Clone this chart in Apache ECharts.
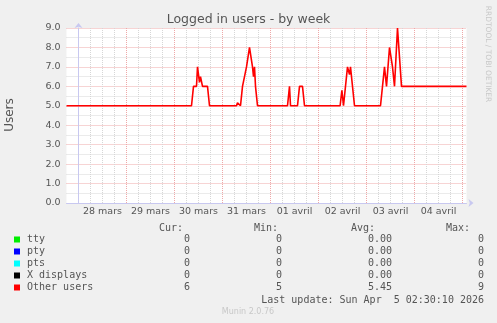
<!DOCTYPE html>
<html><head><meta charset="utf-8">
<script src="https://cdn.jsdelivr.net/npm/echarts@6/dist/echarts.min.js"></script>
<style>html,body{margin:0;padding:0;background:#f0f0f0}#c{width:497px;height:323px}</style>
</head><body><div id="c"></div>
<script>
// x values: hours since 28 mars 00:00
const dayLabels = ['28 mars','29 mars','30 mars','31 mars','01 avril','02 avril','03 avril','04 avril'];
const otherHours = [-6,56.5,57.5,59,59.5,60.5,61,62,64.5,65.5,
  79,79.5,80,80.5,81,82,83,84,84.5,85.5,86,87,87.5,88,88.5,89.5,
  104.5,105.5,106,
  109.5,110.5,112,113,
  130.8,131.7,132.5,
  133.5,134.5,135,135.5,136,137,138,
  151,152,153,154,155.5,156,157,158,159.5,160.5,161.5,194];
const otherValues = [5,5,6,6,7,6.2,6.5,6,6,5,
  5,5.15,5.05,5.1,5,6,6,7,7,8,8,7,6.5,7,6,5,
  5,6,5,
  5,6,6,5,
  5,5.8,5,
  5,7,7,6.6,7,7,5,
  5,6,7,6,8,7.9,7,6,9,9,6,6];
const seriesNames = ['tty','pty','pts','X displays','Other users'];
const seriesColors = ['#00ee00','#0000ff','#00ffff','#000000','#ff0000'];
const curValues = [0,0,0,0,6];
const minValues = [0,0,0,0,5];
const avgValues = [0,0,0,0,5.45];
const maxValues = [0,0,0,0,9];
const lastUpdate = 'Last update: Sun Apr  5 02:30:10 2026';

const PINK = '#eea8a8', GRAY = '#d6d6d6', AXIS = '#c8c8f0';
const SANS = 'DejaVu Sans', MONO = 'DejaVu Sans Mono', TXT = '#555';

const chart = echarts.init(document.getElementById('c'), null, {renderer:'canvas'});
const graphics = [
  {type:'text', x:248.5, y:20, style:{text:'Logged in users - by week', font:'12.5px "DejaVu Sans"', fill:TXT, textAlign:'center', textVerticalAlign:'middle'}},
  {type:'text', x:10, y:115, rotation:Math.PI/2, style:{text:'Users', font:'12px "DejaVu Sans"', fill:TXT, textAlign:'center', textVerticalAlign:'middle'}},
  {type:'text', x:488, y:54, rotation:-Math.PI/2, style:{text:'RRDTOOL / TOBI OETIKER', font:'7.5px "DejaVu Sans"', fill:'#c8c8c8', textAlign:'center', textVerticalAlign:'middle'}},
  {type:'text', x:159, y:228, style:{text:'Cur:', font:'10px "DejaVu Sans Mono"', fill:TXT, textVerticalAlign:'middle'}},
  {type:'text', x:254, y:228, style:{text:'Min:', font:'10px "DejaVu Sans Mono"', fill:TXT, textVerticalAlign:'middle'}},
  {type:'text', x:351, y:228, style:{text:'Avg:', font:'10px "DejaVu Sans Mono"', fill:TXT, textVerticalAlign:'middle'}},
  {type:'text', x:446, y:228, style:{text:'Max:', font:'10px "DejaVu Sans Mono"', fill:TXT, textVerticalAlign:'middle'}},
  {type:'text', x:484, y:300, style:{text:lastUpdate, font:'10px "DejaVu Sans Mono"', fill:TXT, textAlign:'right', textVerticalAlign:'middle'}},
  {type:'text', x:248, y:312, style:{text:'Munin 2.0.76', font:'8px "DejaVu Sans"', fill:'#c8c8c8', textAlign:'center', textVerticalAlign:'middle'}}
];
seriesNames.forEach((n,i)=>{
  const y = 239.5 + i*12;
  graphics.push({type:'rect', shape:{x:14, y:y-3, width:6, height:6}, style:{fill:seriesColors[i]}});
  graphics.push({type:'text', x:27, y:y, style:{text:n, font:'10px "DejaVu Sans Mono"', fill:TXT, textVerticalAlign:'middle'}});
  graphics.push({type:'text', x:190, y:y, style:{text:String(curValues[i]), font:'10px "DejaVu Sans Mono"', fill:TXT, textAlign:'right', textVerticalAlign:'middle'}});
  graphics.push({type:'text', x:282, y:y, style:{text:String(minValues[i]), font:'10px "DejaVu Sans Mono"', fill:TXT, textAlign:'right', textVerticalAlign:'middle'}});
  graphics.push({type:'text', x:392, y:y, style:{text:avgValues[i].toFixed(2), font:'10px "DejaVu Sans Mono"', fill:TXT, textAlign:'right', textVerticalAlign:'middle'}});
  graphics.push({type:'text', x:484, y:y, style:{text:String(maxValues[i]), font:'10px "DejaVu Sans Mono"', fill:TXT, textAlign:'right', textVerticalAlign:'middle'}});
});

chart.setOption({
  animation:false,
  backgroundColor:'#f0f0f0',
  grid:{left:66.5, top:28, width:400, height:175, show:true, backgroundColor:'#ffffff', borderWidth:0, containLabel:false},
  xAxis:{type:'value', min:-6, max:194, interval:6,
    axisLine:{show:true, lineStyle:{color:AXIS, width:1}, symbol:['none','arrow'], symbolSize:[6,5], symbolOffset:[0,7]},
    axisTick:{show:false},
    axisLabel:{show:true, showMinLabel:true, showMaxLabel:true, margin:4, color:TXT, fontSize:9.5, fontFamily:SANS,
      formatter: v => (v>=12 && (v-12)%24===0) ? (dayLabels[(v-12)/24]||'') : ''},
    splitLine:{show:true, showMinLine:false, showMaxLine:false, lineStyle:{color:[PINK,GRAY,GRAY,GRAY], type:[1,1], width:1}}
  },
  yAxis:{type:'value', min:0, max:9, interval:0.5,
    axisLine:{show:true, lineStyle:{color:AXIS, width:1}, symbol:['none','arrow'], symbolSize:[6,5], symbolOffset:[0,5]},
    axisTick:{show:false},
    axisLabel:{margin:6, color:TXT, fontSize:9.5, fontFamily:SANS, formatter: v => Number.isInteger(v) ? v.toFixed(1) : ''},
    splitLine:{show:true, showMinLine:false, showMaxLine:true, lineStyle:{color:[GRAY,PINK], type:[1,1], width:1}}
  },
  series:[{type:'line', name:'Other users', data: otherHours.map((h,i)=>[h, otherValues[i]]),
    showSymbol:false, symbol:'none', lineStyle:{color:'#ff0000', width:1.6}, z:5}],
  graphic: graphics
});
</script></body></html>
